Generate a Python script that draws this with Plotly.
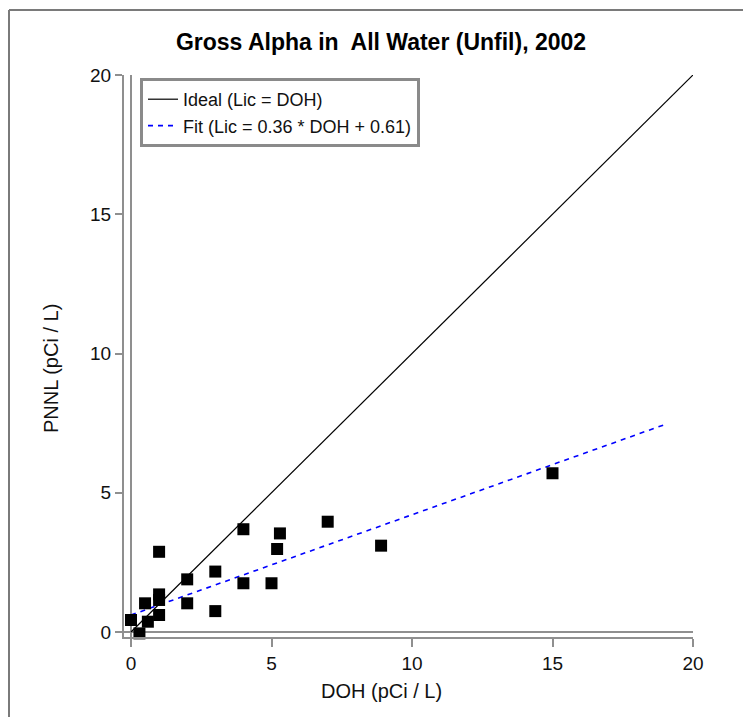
import plotly.graph_objects as go

# Paired gross alpha results, 2002 (pCi / L)
doh = [0, 0.3, 0.5, 0.6, 1, 1, 1, 1, 2, 2, 3, 3, 4, 4, 5, 5.2, 5.3, 7, 8.9, 15]
pnnl = [0.43, -0.05, 1.03, 0.37, 2.88, 1.35, 1.15, 0.61, 1.89, 1.03, 2.17, 0.75,
        3.69, 1.75, 1.75, 2.98, 3.54, 3.96, 3.1, 5.7]

# Reference 1:1 line and least-squares fit
ideal_x = [0, 20]
ideal_y = [0, 20]
fit_slope = 0.36
fit_intercept = 0.61
fit_x = [0, 19]
fit_y = [fit_slope * v + fit_intercept for v in fit_x]

x_ticks = [0, 5, 10, 15, 20]
y_ticks = [0, 5, 10, 15, 20]

FONT = "Liberation Sans, Arial, sans-serif"
AXIS_GRAY = "#8f8f8f"
TEXT = "#111"

# plot area in pixels: x domain 124..693, y domain 75..637
L, R, T, B = 124, 693, 75, 637
W, H = R - L, B - T


def px_x(p):
    return (p - L) / W


def px_y(p):
    return 1 - (p - T) / H


fig = go.Figure()

fig.add_trace(go.Scatter(
    x=ideal_x, y=ideal_y, mode="lines", name="Ideal (Lic = DOH)",
    line=dict(color="black", width=1.2),
))
fig.add_trace(go.Scatter(
    x=fit_x, y=fit_y, mode="lines",
    name=f"Fit (Lic = {fit_slope} * DOH + {fit_intercept})",
    line=dict(color="#0000ff", width=1.6, dash="5px,5px"),
))
fig.add_trace(go.Scatter(
    x=doh, y=pnnl, mode="markers", showlegend=False, cliponaxis=False,
    marker=dict(symbol="square", size=12, color="black", line=dict(width=0)),
))

# second (inner) axis lines give the doubled-axis look
fig.add_shape(type="line", xref="x", yref="y domain", x0=0, x1=0, y0=0, y1=1,
              line=dict(color=AXIS_GRAY, width=2), layer="below")
fig.add_shape(type="line", xref="x domain", yref="y", x0=0, x1=1, y0=0, y1=0,
              line=dict(color=AXIS_GRAY, width=2), layer="below")

# outer frame (top and left edges)
fig.add_shape(type="line", xref="paper", yref="paper",
              x0=px_x(9), x1=2, y0=px_y(10), y1=px_y(10),
              line=dict(color="#7a7a7a", width=2))
fig.add_shape(type="line", xref="paper", yref="paper",
              x0=px_x(9), x1=px_x(9), y0=-1, y1=px_y(10),
              line=dict(color="#7a7a7a", width=2))

# axis titles
fig.add_annotation(
    text="PNNL (pCi / L)", xref="paper", yref="paper",
    x=px_x(38), y=px_y(369), textangle=-90, showarrow=False,
    font=dict(family=FONT, size=20, color=TEXT),
)
fig.add_annotation(
    text="DOH (pCi / L)", xref="paper", yref="paper",
    x=px_x(381), y=px_y(691), showarrow=False,
    xanchor="center", yanchor="middle",
    font=dict(family=FONT, size=20, color=TEXT),
)

fig.update_layout(
    width=743, height=717,
    margin=dict(l=L, r=743 - R, t=T, b=717 - B),
    paper_bgcolor="white", plot_bgcolor="white",
    font=dict(family=FONT, size=19, color=TEXT),
    title=dict(
        text="<b>Gross Alpha in  All Water (Unfil), 2002</b>",
        x=381 / 743, xanchor="center", xref="container",
        y=1 - 42 / 717, yanchor="middle", yref="container",
        font=dict(family=FONT, size=23, color="black"),
    ),
    xaxis=dict(
        range=[-7 / 28.1, 20], tickvals=x_ticks, ticktext=[str(t) for t in x_ticks],
        showgrid=False, zeroline=False, showline=True, linecolor=AXIS_GRAY, linewidth=2,
        ticks="outside", ticklen=8, tickcolor=AXIS_GRAY, tickwidth=2,
        tickfont=dict(size=19),
    ),
    yaxis=dict(
        range=[-5 / 27.85, 20], tickvals=y_ticks, ticktext=[str(t) for t in y_ticks],
        showgrid=False, zeroline=False, showline=True, linecolor=AXIS_GRAY, linewidth=2,
        ticks="outside", ticklen=7, tickcolor=AXIS_GRAY, tickwidth=2,
        tickfont=dict(size=19),
    ),
    legend=dict(
        x=px_x(140), y=px_y(78), xanchor="left", yanchor="top",
        bgcolor="white", bordercolor="#8a8a8a", borderwidth=3,
        font=dict(family=FONT, size=18, color=TEXT),
        tracegroupgap=0, itemwidth=30,
    ),
)

fig.write_html("out.html")
